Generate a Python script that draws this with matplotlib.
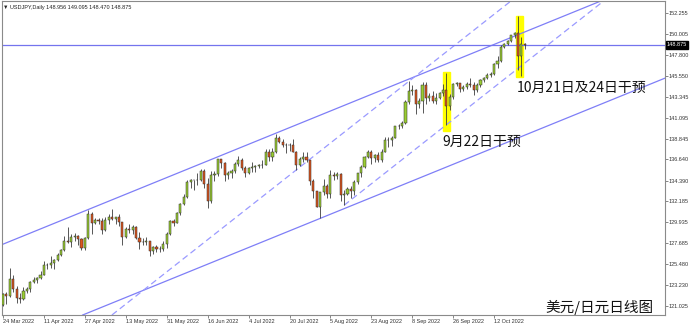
import numpy as np
import pandas as pd
import matplotlib.pyplot as plt
import matplotlib.transforms as mtransforms
from matplotlib.patches import Rectangle

# 中文字体
plt.rcParams['font.family'] = ['Noto Sans CJK SC', 'DejaVu Sans']

# 美元/日元 日线 2022-03-24 ~ 2022-10-25
dates = pd.bdate_range('2022-03-24', '2022-10-25')
opens = [121.15, 122.32, 122.05, 123.85, 122.85, 121.80, 121.70, 122.55, 122.80, 123.60,
         123.80, 123.95, 124.35, 125.35, 125.40, 125.60, 125.90, 126.40, 126.95, 127.95,
         127.85, 128.40, 128.50, 128.10, 127.20, 128.30, 130.85, 129.85, 130.15, 130.10,
         129.10, 130.20, 130.55, 130.30, 130.45, 129.95, 128.35, 129.20, 129.15, 129.40,
         128.25, 127.80, 127.85, 127.90, 126.85, 127.30, 127.10, 127.10, 127.60, 128.70,
         130.05, 129.90, 130.90, 131.90, 132.60, 134.25, 134.40, 134.40, 134.40, 135.45,
         134.00, 132.20, 134.95, 135.05, 136.65, 136.25, 134.95, 135.20, 135.45, 136.15,
         136.55, 135.75, 135.20, 135.70, 135.85, 135.90, 136.00, 136.10, 137.40, 136.90,
         137.40, 138.95, 138.55, 138.15, 138.20, 138.20, 137.40, 136.10, 136.70, 136.95,
         136.60, 134.30, 133.25, 131.60, 133.15, 133.85, 133.00, 134.95, 134.90, 135.10,
         132.90, 133.00, 133.45, 133.30, 134.20, 135.15, 135.85, 136.95, 137.45, 136.80,
         137.10, 136.55, 137.45, 138.75, 138.75, 138.95, 140.20, 140.20, 140.50, 142.75,
         144.00, 144.10, 142.60, 142.85, 144.55, 143.20, 143.45, 142.90, 143.20, 143.70,
         144.10, 142.40, 143.30, 144.70, 144.80, 144.15, 144.40, 144.70, 144.55, 144.10,
         144.60, 145.10, 145.30, 145.70, 145.80, 146.85, 147.20, 148.70, 149.00, 149.25,
         149.90, 150.15, 147.65, 148.956]
highs = [122.42, 122.45, 125.09, 124.30, 123.18, 122.40, 123.00, 123.05, 123.65, 124.05,
         124.05, 124.70, 125.75, 125.60, 126.30, 126.00, 126.65, 127.05, 128.45, 129.40,
         128.70, 128.80, 128.60, 128.30, 128.40, 131.25, 131.00, 130.40, 130.35, 130.35,
         130.45, 130.80, 131.35, 130.45, 130.80, 130.00, 129.40, 129.75, 129.60, 129.50,
         128.90, 128.25, 128.35, 127.95, 127.40, 127.55, 127.45, 127.90, 128.90, 130.20,
         130.25, 130.98, 132.00, 133.00, 134.50, 134.55, 134.45, 135.20, 135.60, 135.60,
         134.65, 135.45, 135.40, 136.70, 136.70, 136.40, 135.40, 135.60, 136.35, 137.00,
         136.80, 135.95, 135.80, 136.40, 136.05, 136.20, 136.55, 137.75, 137.80, 137.85,
         139.40, 139.15, 138.85, 138.40, 138.45, 138.85, 137.60, 136.90, 137.45, 137.45,
         136.60, 134.55, 133.30, 133.20, 134.55, 134.00, 135.50, 135.35, 135.30, 135.20,
         133.40, 133.70, 133.80, 134.45, 135.25, 136.00, 137.05, 137.65, 137.70, 137.25,
         137.45, 137.75, 139.00, 139.00, 139.10, 140.25, 140.40, 140.80, 143.00, 144.99,
         144.55, 144.15, 143.20, 144.95, 144.95, 143.70, 143.95, 143.75, 143.90, 144.70,
         145.90, 143.60, 144.80, 144.90, 144.85, 144.60, 144.90, 145.30, 144.90, 144.85,
         145.20, 145.45, 145.90, 146.00, 146.95, 147.65, 148.85, 149.10, 149.45, 149.95,
         150.30, 151.94, 149.70, 149.095]
lows = [120.95, 121.18, 122.00, 122.45, 121.28, 121.30, 121.65, 122.40, 122.50, 123.50,
        123.40, 123.90, 124.25, 124.90, 125.10, 124.95, 125.80, 126.30, 126.85, 127.75,
        127.30, 127.90, 127.50, 126.95, 126.95, 128.20, 128.65, 129.70, 129.70, 128.65,
        128.95, 129.80, 130.20, 129.75, 129.55, 127.50, 128.30, 128.80, 128.70, 128.10,
        127.05, 127.50, 127.50, 126.35, 126.55, 126.80, 126.75, 126.85, 127.20, 128.60,
        129.50, 129.85, 130.70, 131.80, 132.50, 133.60, 133.40, 133.90, 134.30, 133.55,
        131.50, 132.00, 134.35, 134.90, 135.70, 134.30, 134.55, 134.65, 135.25, 135.90,
        135.55, 134.75, 135.05, 135.30, 135.30, 135.70, 135.70, 136.05, 136.50, 136.50,
        137.30, 138.35, 137.95, 137.35, 137.60, 137.45, 135.55, 135.95, 136.35, 136.35,
        133.95, 132.50, 131.60, 130.40, 132.90, 132.55, 132.50, 134.40, 134.60, 132.20,
        131.75, 132.80, 132.55, 132.90, 134.05, 134.80, 135.75, 136.75, 136.20, 136.40,
        136.40, 136.35, 137.40, 138.00, 138.10, 138.90, 139.95, 140.00, 140.45, 142.60,
        143.50, 141.50, 142.10, 141.65, 142.55, 142.90, 142.65, 142.60, 143.10, 143.40,
        140.35, 141.90, 143.15, 144.50, 143.90, 143.95, 144.20, 144.40, 143.50, 143.80,
        144.40, 144.95, 145.20, 145.40, 145.70, 146.40, 147.05, 148.60, 148.85, 149.20,
        149.65, 146.25, 145.55, 148.470]
closes = [122.32, 122.05, 123.85, 122.85, 121.80, 121.70, 122.55, 122.80, 123.60, 123.80,
          123.95, 124.35, 125.35, 125.40, 125.60, 125.90, 126.40, 126.95, 127.95, 127.85,
          128.40, 128.50, 128.10, 127.20, 128.30, 130.85, 129.85, 130.15, 130.10, 129.10,
          130.20, 130.55, 130.30, 130.45, 129.95, 128.35, 129.20, 129.15, 129.40, 128.25,
          127.80, 127.85, 127.90, 126.85, 127.30, 127.10, 127.10, 127.60, 128.70, 130.05,
          129.90, 130.90, 131.90, 132.60, 134.25, 134.40, 134.40, 134.40, 135.45, 134.00,
          132.20, 134.95, 135.05, 136.65, 136.25, 134.95, 135.20, 135.45, 136.15, 136.55,
          135.75, 135.20, 135.70, 135.85, 135.90, 136.00, 136.10, 137.40, 136.90, 137.40,
          138.95, 138.55, 138.15, 138.20, 138.20, 137.40, 136.10, 136.70, 136.95, 136.60,
          134.30, 133.25, 131.60, 133.15, 133.85, 133.00, 134.95, 134.90, 135.10, 132.90,
          133.00, 133.45, 133.30, 134.20, 135.15, 135.85, 136.95, 137.45, 136.80, 137.10,
          136.55, 137.45, 138.75, 138.75, 138.95, 140.20, 140.20, 140.50, 142.75, 144.00,
          144.10, 142.60, 142.85, 144.55, 143.20, 143.45, 142.90, 143.20, 143.70, 144.10,
          142.40, 143.30, 144.70, 144.80, 144.15, 144.40, 144.70, 144.55, 144.10, 144.60,
          145.10, 145.30, 145.70, 145.80, 146.85, 147.20, 148.70, 149.00, 149.25, 149.90,
          150.15, 147.65, 149.00, 148.875]

# 右侧价格刻度
price_ticks = [152.255, 150.005, 147.800, 145.550, 143.345, 141.095, 138.845, 136.640,
               134.390, 132.185, 129.935, 127.685, 125.480, 123.230, 121.025]
header = '▼ USDJPY,Daily 148.956 149.095 148.470 148.875'

# 趋势线锚点 (K线序号, 价格)
channel_up = [(25, 131.30), (80, 139.45)]
channel_down = [(93, 130.35), (148, 138.50)]
dash_a = [(32, 120.05), (119, 144.99)]
dash_b = [(100, 131.75), (130, 140.35)]

# 干预标记: (起始序号, 结束序号, 低, 高)
marks = [(129.0, 131.0, 139.70, 145.95), (150.5, 152.6, 145.45, 151.97)]
notes = [(128.9, 138.5, '9月22日干预'), (150.6, 144.3, '10月21日及24日干预')]
title_cn = '美元/日元日线图'

o = np.array(opens)
h = np.array(highs)
l = np.array(lows)
c = np.array(closes)
x = np.arange(len(dates))

small = ['Liberation Sans', 'DejaVu Sans']

fig = plt.figure(figsize=(6.92, 3.25), dpi=100)
ax = fig.add_axes([2 / 692, 10 / 325, 663 / 692, 314 / 325])

for x0, x1, lo, hi in marks:
    ax.add_patch(Rectangle((x0, lo), x1 - x0, hi - lo, color='#ffff00', zorder=1))

line_c = '#7e7ef7'
ax.axline(channel_up[0], channel_up[1], color=line_c, lw=0.9, zorder=2)
ax.axline(channel_down[0], channel_down[1], color=line_c, lw=0.9, zorder=2)
ax.axline(dash_a[0], dash_a[1], color='#9a9aff', lw=0.9, ls=(0, (5, 3)), zorder=2)
k = (dash_b[1][1] - dash_b[0][1]) / (dash_b[1][0] - dash_b[0][0])
ax.plot([dash_b[0][0], 200], [dash_b[0][1], dash_b[0][1] + k * (200 - dash_b[0][0])],
        color='#9a9aff', lw=0.9, ls=(0, (5, 3)), zorder=2)
ax.axhline(c[-1], color='#7474ee', lw=0.9, zorder=2)

# K线
up = c >= o
ax.vlines(x, l, h, color='#3c3c3c', lw=0.6, zorder=3)
ax.bar(x[up], (c - o)[up], bottom=o[up], width=0.62, color='#9acd32',
       edgecolor='#2c2c2c', lw=0.35, zorder=4)
ax.bar(x[~up], (o - c)[~up], bottom=c[~up], width=0.62, color='#dd561e',
       edgecolor='#2c2c2c', lw=0.35, zorder=4)

for nx, ny, s in notes:
    ax.text(nx, ny, s, fontsize=10, color='#111111', va='center', ha='left', zorder=5)
ax.text(0.983, 0.025, title_cn, transform=ax.transAxes, fontsize=10.5,
        color='#111111', ha='right', va='center', zorder=5)
ax.text(0.002, 0.988, header, transform=ax.transAxes, fontsize=4,
        family=small, color='#222222', ha='left', va='top')

ax.set_xlim(-0.3, 194.1)
ax.set_ylim(120.03, 153.57)

ax.yaxis.tick_right()
ax.set_yticks(price_ticks)
ax.set_yticklabels([f'{v:.3f}' for v in price_ticks])
tick_idx = list(range(0, len(dates), 12))
ax.set_xticks(tick_idx)
ax.set_xticklabels([f'{dates[i].day} {dates[i].strftime("%b %Y")}' for i in tick_idx],
                   ha='left')
ax.tick_params(axis='both', direction='out', length=2, width=0.5, colors='#555555',
               labelcolor='#333333', labelsize=4, pad=0.8)
for lab in ax.get_xticklabels() + ax.get_yticklabels():
    lab.set_family(small)

for sp in ax.spines.values():
    sp.set_color('#8a8a8a')
    sp.set_linewidth(0.8)

# 当前价格框
trans = mtransforms.blended_transform_factory(ax.transAxes, ax.transData)
ax.text(1.003, c[-1], f'{c[-1]:.3f}', transform=trans, fontsize=4, color='white',
        family=small, ha='left', va='center', zorder=6,
        bbox=dict(boxstyle='square,pad=0.2', fc='black', ec='black'))

fig.savefig('out.png', dpi=100)
